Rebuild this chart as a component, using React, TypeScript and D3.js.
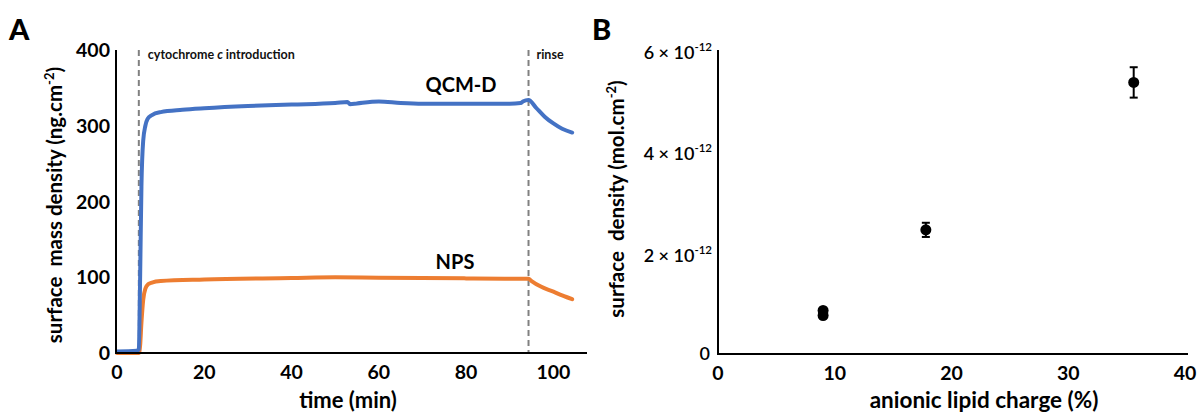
import * as d3 from "d3";

// Panel A: time course, surface mass density (ng.cm-2)
const qcmTime = [0, 4.5, 5.0, 5.3, 5.6, 6.0, 6.5, 7.0, 8, 10, 15, 20, 30, 40, 50, 52.8, 53.4, 55, 60, 65, 70, 80, 90, 92.5, 93, 94.3, 96, 98, 100, 102, 104.3];
const qcmMass = [2, 3, 5, 100, 220, 280, 300, 309, 314, 318, 321, 323, 326, 328, 330, 331.5, 328.5, 329.5, 332, 330, 329, 329, 329, 330, 332, 334, 324, 312, 303, 296, 291];

const npsTime = [0, 5.0, 5.3, 5.6, 6.0, 6.5, 7.2, 8, 10, 20, 40, 50, 60, 80, 90, 94.3, 95, 97, 100, 102, 104.3];
const npsMass = [0, 0, 10, 40, 70, 85, 91, 93, 95, 97, 99, 100, 99.5, 98.5, 98, 98, 95, 88, 81, 76, 71];

const eventTimes = [5.0, 94.3];
const eventLabels = ["cytochrome c introduction", "rinse"];

const timeTicks = [0, 20, 40, 60, 80, 100];
const massTicks = [0, 100, 200, 300, 400];

// Panel B: surface density vs anionic lipid charge
const chargePct = [9.0, 9.0, 17.8, 35.6];
const density = [0.86, 0.76, 2.45, 5.36]; // x 10^-12 mol.cm-2
const densityErr = [0.03, 0.03, 0.14, 0.3];

const chargeTicks = [0, 10, 20, 30, 40];
const densityTicks = [0, 2, 4, 6];

const FONT = "Lato, 'Open Sans', sans-serif";
const BLUE = "#4472C4";
const ORANGE = "#ED7D31";

export default function App() {
  // scales panel A
  const xA = d3.scaleLinear().domain([0, 107.7]).range([117, 587]);
  const yA = d3.scaleLinear().domain([0, 400]).range([353, 50]);

  const line = d3
    .line<[number, number]>()
    .x((d) => xA(d[0]))
    .y((d) => yA(d[1]))
    .curve(d3.curveMonotoneX);

  const qcm = qcmTime.map((t, i) => [t, qcmMass[i]] as [number, number]);
  const nps = npsTime.map((t, i) => [t, npsMass[i]] as [number, number]);

  // scales panel B
  const xB = d3.scaleLinear().domain([0, 40.25]).range([718, 1188]);
  const yB = d3.scaleLinear().domain([0, 6]).range([354, 50]);

  return (
    <svg width={1200} height={412} style={{ position: "absolute", left: 0, top: 0, background: "#fff" }} fontFamily={FONT}>
      {/* ---------- Panel A ---------- */}
      <text x={9} y={40} fontSize={29} fontWeight={900}>A</text>

      {eventTimes.map((t) => (
        <line key={t} x1={xA(t)} x2={xA(t)} y1={yA(400)} y2={yA(0)} stroke="#808080" strokeWidth={2} strokeDasharray="6,4" />
      ))}
      <text x={xA(eventTimes[0]) + 9} y={59} fontSize={12.5} fontWeight={700} fill="#111">
        cytochrome <tspan fontStyle="italic">c</tspan> introduction
      </text>
      <text x={xA(eventTimes[1]) + 8} y={59} fontSize={12.5} fontWeight={700} fill="#111">{eventLabels[1]}</text>

      <path d={line(nps) ?? ""} fill="none" stroke={ORANGE} strokeWidth={4} strokeLinejoin="round" strokeLinecap="round" />
      <path d={line(qcm) ?? ""} fill="none" stroke={BLUE} strokeWidth={4} strokeLinejoin="round" strokeLinecap="round" />

      <text x={461} y={92} fontSize={20} fontWeight={700} textAnchor="middle">QCM-D</text>
      <text x={455} y={269} fontSize={20} fontWeight={700} textAnchor="middle">NPS</text>

      <line x1={xA(0) - 1} x2={xA(0) - 1} y1={yA(400)} y2={yA(0) + 1} stroke="#000" strokeWidth={2} />
      <line x1={xA(0) - 2} x2={xA(107.7)} y1={yA(0)} y2={yA(0)} stroke="#000" strokeWidth={2} />

      {massTicks.map((v) => (
        <text key={v} x={110} y={yA(v) + 7} fontSize={19.5} fontWeight={700} textAnchor="end">{v}</text>
      ))}
      {timeTicks.map((v) => (
        <text key={v} x={xA(v)} y={379} fontSize={19.5} fontWeight={700} textAnchor="middle">{v}</text>
      ))}

      <text x={348} y={408} fontSize={22} fontWeight={700} textAnchor="middle">time (min)</text>
      <text transform="translate(62,205) rotate(-90)" fontSize={20.5} fontWeight={700} textAnchor="middle" xmlSpace="preserve">
        surface  mass density (ng.cm<tspan dy={-8} fontSize={13}>-2</tspan><tspan dy={8}>)</tspan>
      </text>

      {/* ---------- Panel B ---------- */}
      <text x={592} y={40} fontSize={29} fontWeight={900}>B</text>

      <line x1={xB(0)} x2={xB(0)} y1={yB(6)} y2={yB(0) + 1} stroke="#000" strokeWidth={2} />
      <line x1={xB(0) - 1} x2={xB(40.25)} y1={yB(0)} y2={yB(0)} stroke="#000" strokeWidth={2} />

      {densityTicks.map((v) =>
        v === 0 ? (
          <text key={v} x={710} y={yB(v) + 6} fontSize={18} fontWeight={600} textAnchor="end">0</text>
        ) : (
          <text key={v} x={712} y={yB(v) + 9} fontSize={18} fontWeight={600} textAnchor="end">
            {v} × 10<tspan dy={-8} fontSize={11.5}>-12</tspan>
          </text>
        )
      )}
      {chargeTicks.map((v) => (
        <text key={v} x={xB(v)} y={380} fontSize={19.5} fontWeight={700} textAnchor="middle">{v}</text>
      ))}

      <text x={984} y={408} fontSize={22.5} fontWeight={700} textAnchor="middle">anionic lipid charge (%)</text>
      <text transform="translate(624,199) rotate(-90)" fontSize={20.5} fontWeight={700} textAnchor="middle" xmlSpace="preserve">
        surface  density (mol.cm<tspan dy={-8} fontSize={13}>-2</tspan><tspan dy={8}>)</tspan>
      </text>

      {chargePct.map((c, i) => (
        <g key={i}>
          <line x1={xB(c)} x2={xB(c)} y1={yB(density[i] - densityErr[i])} y2={yB(density[i] + densityErr[i])} stroke="#000" strokeWidth={2} />
          <line x1={xB(c) - 4} x2={xB(c) + 4} y1={yB(density[i] + densityErr[i])} y2={yB(density[i] + densityErr[i])} stroke="#000" strokeWidth={2} />
          <line x1={xB(c) - 4} x2={xB(c) + 4} y1={yB(density[i] - densityErr[i])} y2={yB(density[i] - densityErr[i])} stroke="#000" strokeWidth={2} />
          <circle cx={xB(c)} cy={yB(density[i])} r={5.5} fill="#000" />
        </g>
      ))}
    </svg>
  );
}
